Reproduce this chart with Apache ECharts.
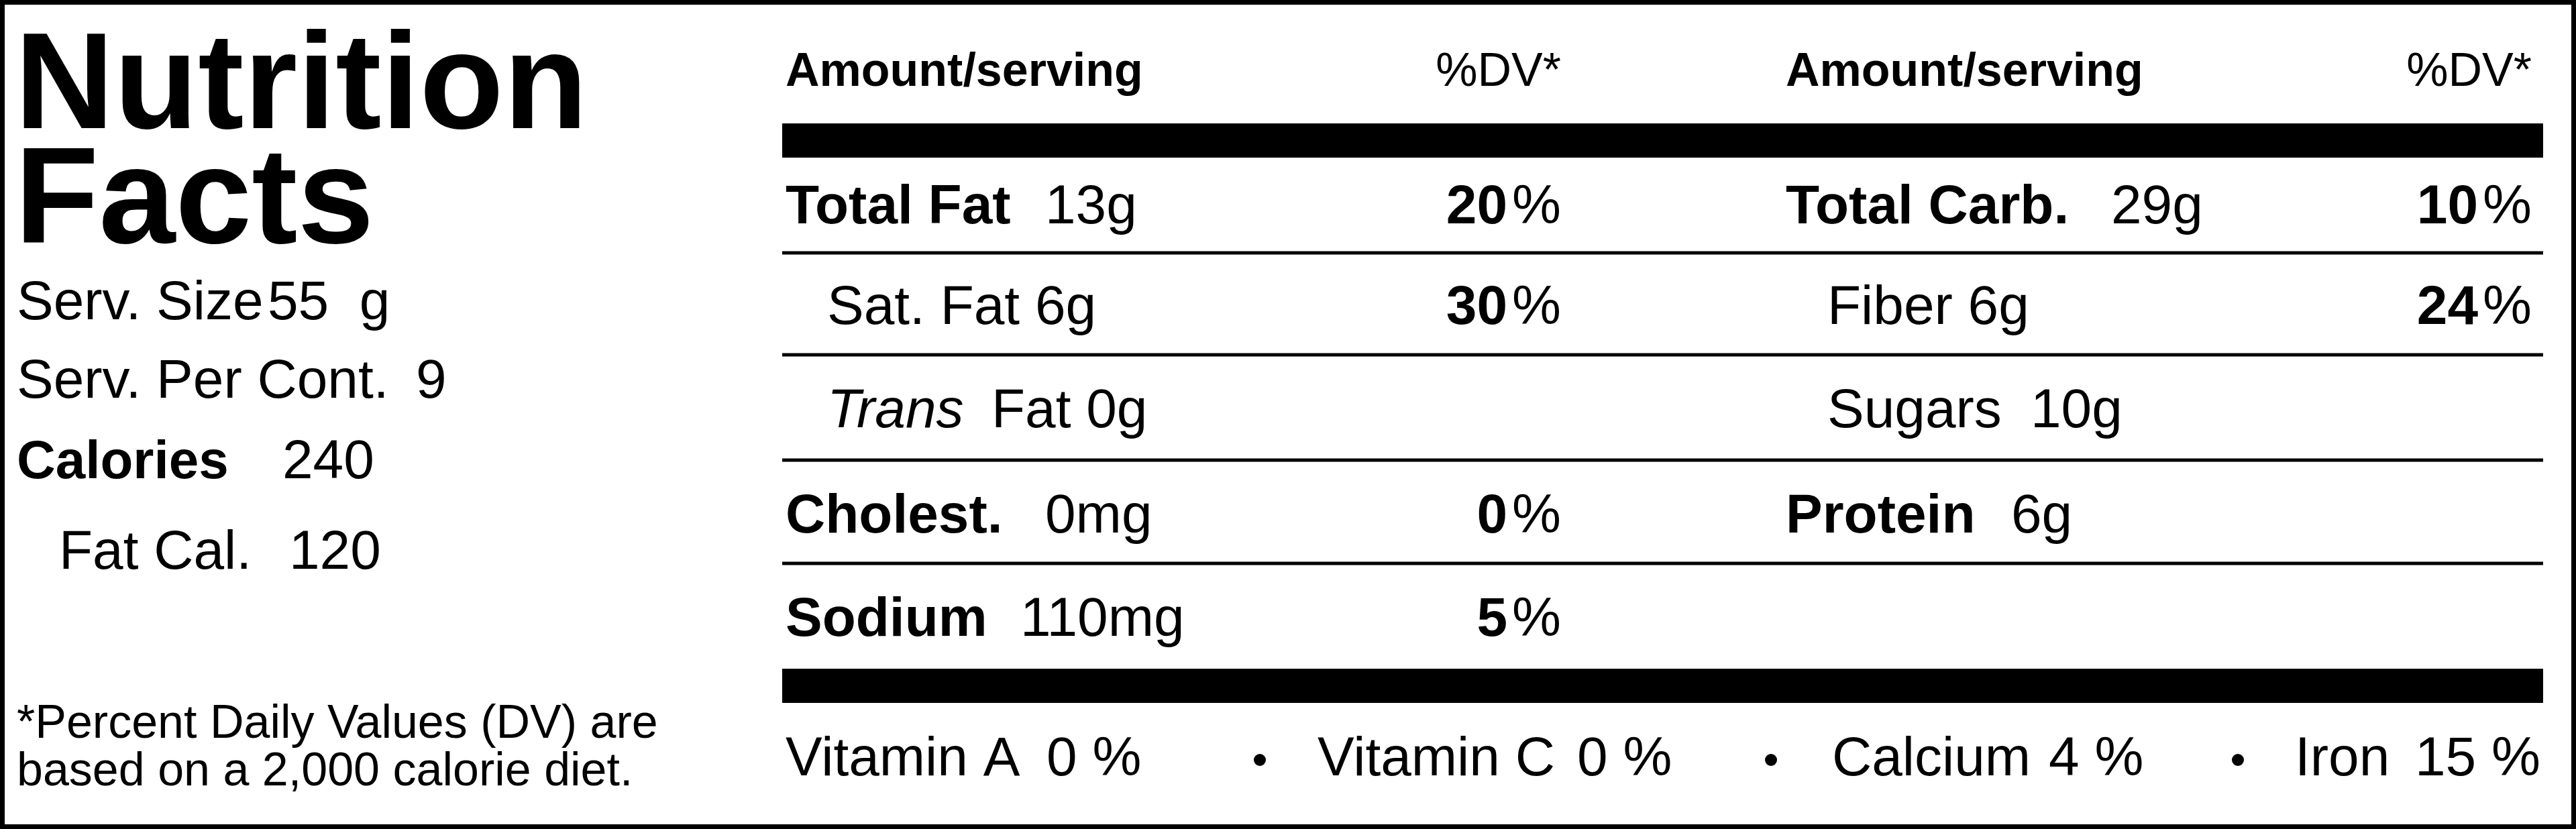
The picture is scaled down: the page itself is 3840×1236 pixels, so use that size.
<!DOCTYPE html>
<html><head><meta charset="utf-8">
<script src="https://cdn.jsdelivr.net/npm/echarts@6/dist/echarts.min.js"></script>
<style>html,body{margin:0;padding:0;background:#fff}#c{width:3840px;height:1236px}</style>
</head><body><div id="c"></div>
<script>
const title = ['Nutrition', 'Facts'];
const servingInfo = [
  ['Serv. Size', '55  g', false],
  ['Serv. Per Cont.', '9', false],
  ['Calories', '240', true],
  ['Fat Cal.', '120', false]
];
const footnote = ['*Percent Daily Values (DV) are', 'based on a 2,000 calorie diet.'];
const headers = ['Amount/serving', '%DV*'];
// [label, amount, %DV (or null), bold label, indent, prefix]
const leftRows = [
  ['Total Fat', '13g', '20', true, 0, ''],
  ['Fat 6g', '', '30', false, 1, 'Sat. '],
  ['Fat 0g', '', null, false, 1, 'Trans'],
  ['Cholest.', '0mg', '0', true, 0, ''],
  ['Sodium', '110mg', '5', true, 0, '']
];
const rightRows = [
  ['Total Carb.', '29g', '10', true, 0, ''],
  ['Fiber 6g', '', '24', false, 1, ''],
  ['Sugars', '10g', null, false, 1, ''],
  ['Protein', '6g', null, true, 0, ''],
];
const vitamins = [['Vitamin A', '0 %'], ['Vitamin C', '0 %'], ['Calcium', '4 %'], ['Iron', '15 %']];

const F = 'Liberation Sans, Arial, sans-serif';
const g = [];
function txt(x, y, s, size, opt) {
  opt = opt || {};
  g.push({type:'text', x:x, y:y - 0.8*size, style:{text:s, font:(opt.italic?'italic ':'')+(opt.bold?'bold ':'')+size+'px '+F,
    fill:'#000', align:opt.align||'left', textAlign:opt.align||'left', verticalAlign:'top', textVerticalAlign:'top'}});
}
function rect(x, y, w, h) { g.push({type:'rect', shape:{x:x,y:y,width:w,height:h}, style:{fill:'#000'}}); }

g.push({type:'rect', shape:{x:3.5,y:3.5,width:3833,height:1229}, style:{fill:'none', stroke:'#000', lineWidth:7}});
txt(22, 196, title[0], 205, {bold:true});
txt(22, 367, title[1], 205, {bold:true});
const lb = [478, 595, 715, 850];
const lx = [[25,399],[25,620],[25,421],[88,431]];
servingInfo.forEach((r,i)=>{ txt(lx[i][0], lb[i], r[0], r[2]?80:82, {bold:r[2]}); txt(lx[i][1], lb[i], r[1], 82); });
txt(25, 1102, footnote[0], 70); txt(25, 1173, footnote[1], 70);

const X0 = 1166, X1 = 3791;
rect(X0, 184, X1-X0, 51);
rect(X0, 997, X1-X0, 51);
[377, 529, 686, 840].forEach(y=>rect(X0, y-2.5, X1-X0, 5));
const cols = [{x:1171, r:2327, amtx:[1558,null,null,1558,1521]}, {x:2662, r:3774, amtx:[3147,null,3027,2998]}];
txt(1171, 130, headers[0], 70, {bold:true}); txt(2327, 130, headers[1], 70, {align:'right'});
txt(2662, 130, headers[0], 70, {bold:true}); txt(3774, 130, headers[1], 70, {align:'right'});
const rb = [335, 485, 639, 796, 950];
const S = 82;
function drawRows(rows, c) {
  rows.forEach((r,i)=>{
    const y = rb[i];
    let x = c.x + (r[4] ? 62 : 0);
    if (r[5] === 'Trans') {
      txt(x, y, 'Trans', S, {italic:true});
      txt(x+245, y, r[0], S);
    } else {
      txt(x, y, r[5] + r[0], S, {bold:r[3]});
    }
    if (r[1]) txt(c.amtx[i], y, r[1], S);
    if (r[2] !== null) {
      txt(c.r, y, '%', S, {align:'right'});
      txt(c.r - 80, y, r[2], S, {bold:true, align:'right'});
    }
  });
}
drawRows(leftRows, cols[0]);
drawRows(rightRows, cols[1]);
const vx = [[1171,1560],[1964,2351],[2731,3054],[3421,3600]];
const bx = [1878, 2640, 3336];
vitamins.forEach((v,i)=>{ txt(vx[i][0], 1158, v[0], S); txt(vx[i][1], 1158, v[1], S); });
bx.forEach(x=>g.push({type:'circle', shape:{cx:x, cy:1133, r:9}, style:{fill:'#000'}}));

const chart = echarts.init(document.getElementById('c'), null, {renderer:'canvas'});
chart.setOption({animation:false, graphic:{elements:g}});
</script></body></html>
